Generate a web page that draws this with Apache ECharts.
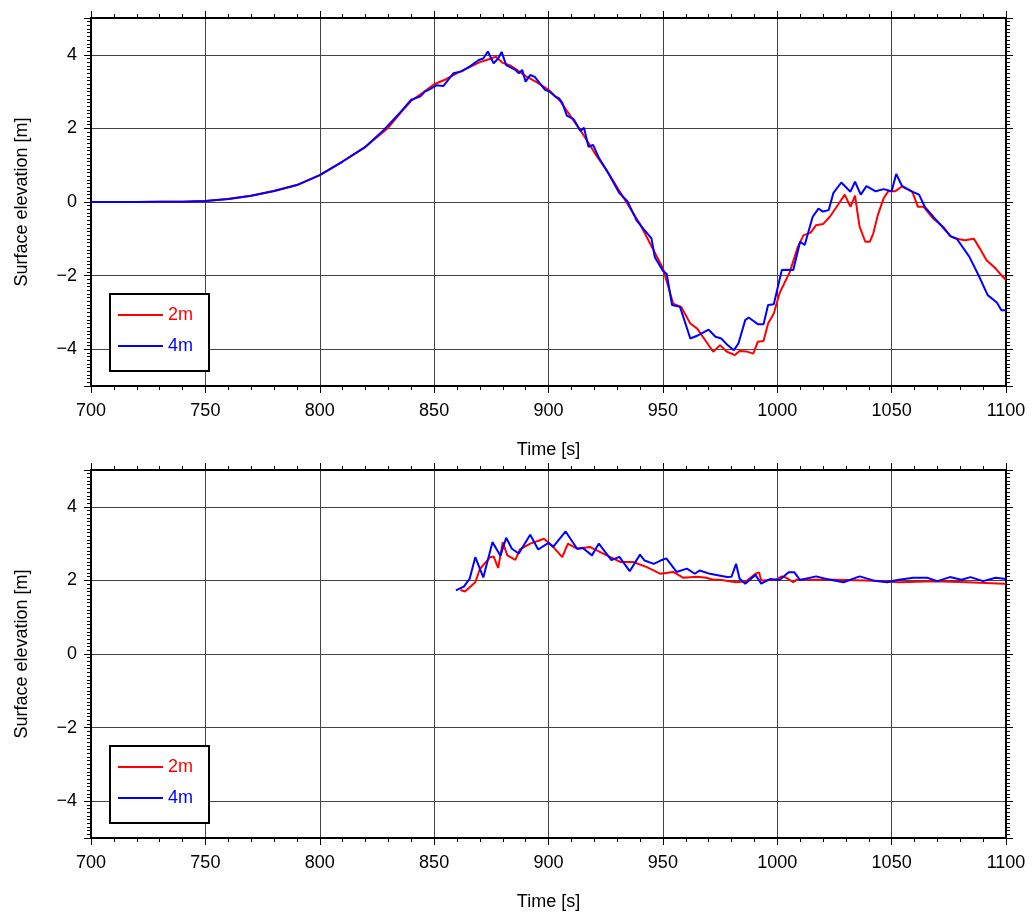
<!DOCTYPE html>
<html>
<head>
<meta charset="utf-8">
<title>Surface elevation</title>
<script src="https://cdn.jsdelivr.net/npm/echarts@6/dist/echarts.min.js"></script>
<style>
  html, body { margin: 0; padding: 0; background: #fff; }
  #chart { width: 1033px; height: 915px; }
</style>
</head>
<body>
<div id="chart"></div>
<script>
// upper panel, time [s] and elevation [m]
const topTime2m = [700,710,720,730,740,750,760,770,780,790,800,810,820,830,835,840,845,850,855,860,865,870,875,877,880,883,886,890,895,900,905,910,915,920,925,930,935,940,945,950,954.5,958,962,965,968,972,975,978,981.5,983.5,986.5,989.5,991.5,994,996,998.5,1001,1005.5,1009,1011.5,1014.5,1017,1020,1023,1026.5,1029.5,1032,1034,1036,1038.5,1040.5,1042,1044,1046.5,1048.5,1051.5,1054.5,1059,1061.5,1064,1068,1072.5,1075.5,1078.5,1082,1086,1088.5,1091.5,1095.5,1098,1100];
const topElev2m = [0,0,0,0.005,0.01,0.03,0.08,0.17,0.3,0.46,0.73,1.1,1.5,2.02,2.4,2.75,2.97,3.2,3.33,3.5,3.65,3.8,3.9,3.95,3.78,3.72,3.6,3.42,3.25,3.05,2.75,2.3,1.85,1.35,0.9,0.4,-0.1,-0.6,-1.2,-1.8,-2.76,-2.85,-3.3,-3.44,-3.71,-4.07,-3.89,-4.07,-4.16,-4.05,-4.06,-4.12,-3.8,-3.78,-3.3,-3.03,-2.48,-1.9,-1.22,-0.9,-0.84,-0.63,-0.6,-0.4,-0.08,0.2,-0.13,0.17,-0.67,-1.08,-1.08,-0.85,-0.35,0.1,0.29,0.29,0.42,0.28,-0.13,-0.13,-0.44,-0.67,-0.92,-1.0,-1.04,-1.0,-1.26,-1.58,-1.81,-1.99,-2.12];
const topTime4m = [700,710,720,730,740,750,760,770,780,790,800,810,820,828,835,840,844,846,848,851,854,858.5,862,865.5,869.5,871.5,873.5,876,878,879.5,881.5,885.5,887,888.5,890,892,894,898.5,900.5,902.8,904.5,906,908,911,914,915.5,917.5,919.5,922,926,931,934.5,938.5,941.5,945,946.5,950,951.7,954,957.5,962,965.5,970,973,975.5,978,981,983,986,987.5,991.5,994,996,998.5,1002,1004,1007,1010,1012,1015.5,1018,1020,1022.5,1024.5,1028,1032,1034,1036.5,1039,1043,1046.5,1050,1052,1054.5,1059,1062,1064.5,1069.5,1076,1078.5,1084,1088,1092,1096,1098,1100];
const topElev4m = [0,0,0,0.005,0.01,0.03,0.08,0.17,0.3,0.46,0.73,1.1,1.5,1.96,2.42,2.78,2.87,3.0,3.06,3.17,3.15,3.5,3.55,3.68,3.86,3.9,4.09,3.77,3.9,4.08,3.72,3.59,3.5,3.59,3.27,3.45,3.4,3.05,3.0,2.87,2.82,2.7,2.35,2.25,1.93,2.02,1.5,1.55,1.2,0.8,0.24,0.02,-0.5,-0.73,-0.99,-1.5,-1.87,-1.96,-2.8,-2.85,-3.71,-3.62,-3.47,-3.66,-3.71,-3.87,-4.03,-3.85,-3.21,-3.14,-3.32,-3.32,-2.8,-2.78,-1.85,-1.84,-1.85,-1.08,-1.17,-0.4,-0.18,-0.26,-0.22,0.24,0.53,0.28,0.55,0.2,0.43,0.29,0.35,0.29,0.76,0.44,0.28,0.2,-0.13,-0.49,-0.94,-1.0,-1.49,-1.99,-2.53,-2.73,-2.94,-2.94];

// lower panel
const botTime2m = [861.5,863.5,868,870,874.5,876,878,880,882,885.5,887.5,892,898,901.5,906,908.5,912.5,918,925.5,931.5,937,943,949,954.5,959,965,969,972,975,982,986.5,990.5,992,993,999.5,1002,1004,1007,1008.5,1024.5,1039,1053.5,1068.5,1083,1099,1100];
const botElev2m = [1.74,1.7,1.95,2.31,2.63,2.65,2.34,3.04,2.68,2.56,2.84,3.0,3.13,2.95,2.63,3.0,2.86,2.91,2.68,2.5,2.5,2.36,2.18,2.23,2.07,2.1,2.07,2.02,2.02,1.95,1.98,2.18,2.22,2.0,2.02,2.11,2.07,1.95,2.02,2.02,2.0,1.95,1.98,1.95,1.91,1.91];
const botTime4m = [859.5,863,865.5,868,871.5,875.5,879,881.5,884,887,892,895.5,900,902,907.5,912.5,915,919,922,927.5,931,935.5,940,942,946,949,951.5,956,960.5,964,966,970,978,980,982,983.5,986,990.5,993,997,1001,1005,1007.5,1010,1017,1021.5,1029,1036,1042,1048,1052.5,1059.5,1065.5,1070,1075.5,1080.5,1084.5,1090,1095.5,1100];
const botElev4m = [1.73,1.83,2.04,2.63,2.08,3.04,2.67,3.16,2.86,2.73,3.24,2.84,3.02,2.91,3.33,2.86,2.88,2.68,3.0,2.55,2.64,2.25,2.7,2.54,2.45,2.54,2.6,2.23,2.32,2.18,2.27,2.19,2.09,2.1,2.45,2.05,1.91,2.15,1.91,2.04,2.01,2.22,2.22,2.01,2.11,2.04,1.95,2.11,2.0,1.95,2.01,2.07,2.07,1.98,2.09,2.02,2.09,1.98,2.07,2.04];

const seriesNames = ['2m', '4m'];
const seriesColors = ['#ff0000', '#0000ff'];
const timeRange = [700, 1100];
const elevRange = [-5, 5];

const FONT = 'Liberation Sans, Arial, Helvetica, sans-serif';
const pairs = (ts, vs) => ts.map((t, i) => [t, vs[i]]);
const fmtX = v => String(v);
const fmtY = v => (Math.abs(v) === 5 ? '' : (v < 0 ? '\u2212' + (-v) : String(v)));

const panelTops = [18, 470];
const frame = { color: '#000', width: 2 };

const grid = [];
const xAxis = [];
const yAxis = [];
const legend = [];

panelTops.forEach((top, p) => {
  // main grid + overlay grid for the fine ticks
  grid.push({ left: 91, top: top, width: 915, height: 368 });
  grid.push({ left: 91, top: top, width: 915, height: 368 });
  const g = 2 * p;

  xAxis.push({
    gridIndex: g, type: 'value', position: 'bottom',
    min: timeRange[0], max: timeRange[1], interval: 50,
    axisLine: { onZero: false, lineStyle: frame },
    axisTick: { length: 7, lineStyle: { color: '#000', width: 1 } },
    axisLabel: { fontSize: 18, color: '#000', margin: 16, fontFamily: FONT, formatter: fmtX },
    splitLine: { show: true, lineStyle: { color: '#444', width: 1 } },
    name: 'Time [s]', nameLocation: 'middle', nameGap: 55,
    nameTextStyle: { fontSize: 18, color: '#000', fontFamily: FONT }
  });
  xAxis.push({
    gridIndex: g, type: 'value', position: 'top',
    min: timeRange[0], max: timeRange[1], interval: 50,
    axisLine: { onZero: false, lineStyle: frame },
    axisTick: { length: 7, lineStyle: { color: '#000', width: 1 } },
    axisLabel: { show: false }, splitLine: { show: false }
  });
  xAxis.push({
    gridIndex: g + 1, type: 'value', position: 'bottom',
    min: timeRange[0], max: timeRange[1], interval: 10,
    axisLine: { show: false, onZero: false },
    axisTick: { length: 4, lineStyle: { color: '#000', width: 1 } },
    axisLabel: { show: false }, splitLine: { show: false }
  });
  xAxis.push({
    gridIndex: g + 1, type: 'value', position: 'top',
    min: timeRange[0], max: timeRange[1], interval: 10,
    axisLine: { show: false, onZero: false },
    axisTick: { length: 4, lineStyle: { color: '#000', width: 1 } },
    axisLabel: { show: false }, splitLine: { show: false }
  });

  yAxis.push({
    gridIndex: g, type: 'value', position: 'left',
    min: elevRange[0], max: elevRange[1], splitNumber: 5, minInterval: 2, maxInterval: 2,
    axisLine: { show: true, onZero: false, lineStyle: frame },
    axisTick: { show: true, length: 7, lineStyle: { color: '#000', width: 1 } },
    axisLabel: { fontSize: 18, color: '#000', margin: 14, fontFamily: FONT, formatter: fmtY },
    splitLine: { show: true, lineStyle: { color: '#444', width: 1 } },
    name: 'Surface elevation [m]', nameLocation: 'middle', nameGap: 60,
    nameTextStyle: { fontSize: 18, color: '#000', fontFamily: FONT }
  });
  yAxis.push({
    gridIndex: g, type: 'value', position: 'right',
    min: elevRange[0], max: elevRange[1], splitNumber: 5, minInterval: 2, maxInterval: 2,
    axisLine: { show: true, onZero: false, lineStyle: frame },
    axisTick: { show: true, length: 7, lineStyle: { color: '#000', width: 1 } },
    axisLabel: { show: false }, splitLine: { show: false }
  });
  yAxis.push({
    gridIndex: g + 1, type: 'value', position: 'left',
    min: elevRange[0], max: elevRange[1], interval: 0.1,
    axisLine: { show: false, onZero: false },
    axisTick: { show: true, length: 4, lineStyle: { color: '#000', width: 1 } },
    axisLabel: { show: false }, splitLine: { show: false }
  });
  yAxis.push({
    gridIndex: g + 1, type: 'value', position: 'right',
    min: elevRange[0], max: elevRange[1], interval: 0.1,
    axisLine: { show: false, onZero: false },
    axisTick: { show: true, length: 4, lineStyle: { color: '#000', width: 1 } },
    axisLabel: { show: false }, splitLine: { show: false }
  });

  legend.push({
    left: 110, top: top + 276, orient: 'vertical',
    selectedMode: false,
    backgroundColor: '#fff', borderColor: '#000', borderWidth: 2,
    padding: [11, 16, 15, 8],
    icon: 'rect', itemWidth: 45, itemHeight: 2, itemGap: 11, itemTextGap: 8,
    textStyle: { fontSize: 18, fontFamily: FONT, lineHeight: 20 },
    data: seriesNames.map((n, i) => ({ name: n, textStyle: { color: seriesColors[i] } }))
  });
});

const panelData = [
  [pairs(topTime2m, topElev2m), pairs(topTime4m, topElev4m)],
  [pairs(botTime2m, botElev2m), pairs(botTime4m, botElev4m)]
];

const series = [];
panelData.forEach((sets, p) => {
  sets.forEach((d, i) => {
    series.push({
      name: seriesNames[i], type: 'line',
      xAxisIndex: 4 * p, yAxisIndex: 4 * p,
      data: d, symbol: 'none', showSymbol: false,
      lineStyle: { color: seriesColors[i], width: 2 },
      itemStyle: { color: seriesColors[i] },
      z: 3 + i
    });
  });
});

const chart = echarts.init(document.getElementById('chart'));
chart.setOption({
  animation: false,
  backgroundColor: '#fff',
  grid, xAxis, yAxis, legend, series
});
</script>
</body>
</html>
